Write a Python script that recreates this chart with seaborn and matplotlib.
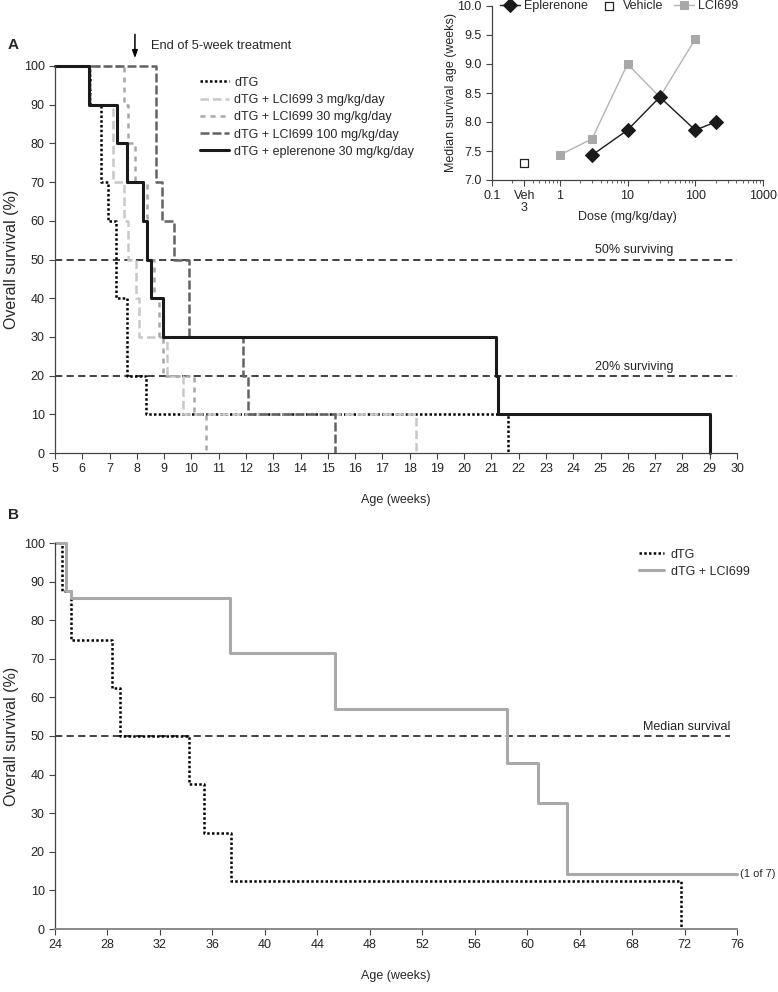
import matplotlib
matplotlib.use("Agg")
import numpy as np
import pandas as pd
import matplotlib.pyplot as plt
import seaborn as sns
from matplotlib.ticker import FormatStrFormatter, MultipleLocator

# Panel A: Kaplan-Meier steps, age (weeks) vs overall survival (%)
dtg_a_weeks = [5, 6.3, 6.7, 6.95, 7.25, 7.65, 8.35, 21.6]
dtg_a_surv = [100, 90, 70, 60, 40, 20, 10, 0]
lci3_weeks = [5, 6.3, 7.12, 7.54, 7.66, 7.97, 8.09, 9.09, 9.68, 18.25]
lci3_surv = [100, 90, 70, 60, 50, 40, 30, 20, 10, 0]
lci30_weeks = [5, 7.53, 7.69, 7.93, 8.36, 8.63, 8.83, 8.95, 10.1, 10.52]
lci30_surv = [100, 90, 80, 70, 50, 40, 30, 20, 10, 0]
lci100_weeks = [5, 8.7, 8.91, 9.37, 9.92, 11.9, 12.06, 15.26]
lci100_surv = [100, 70, 60, 50, 30, 20, 10, 0]
eple_weeks = [5, 6.26, 7.26, 7.65, 8.24, 8.36, 8.51, 8.95, 21.15, 21.25, 29.0]
eple_surv = [100, 90, 80, 70, 60, 50, 40, 30, 20, 10, 0]

# Inset: median survival age vs dose
eple_dose = [3, 10, 30, 100, 200]
eple_median = [7.43, 7.86, 8.43, 7.86, 8.0]
lci_dose = [1, 3, 10, 30, 100]
lci_median = [7.43, 7.71, 9.0, 8.43, 9.43]
veh_dose = [0.3]
veh_median = [7.29]
inset_xticks = [0.1, 0.3, 1, 10, 100, 1000]
inset_xlabels = ["0.1", "Veh\n3", "1", "10", "100", "1000"]

# Panel B
dtg_b_weeks = [24, 24.56, 25.22, 28.37, 28.95, 34.2, 35.35, 37.45, 71.7]
dtg_b_surv = [100, 87.5, 75, 62.5, 50, 37.5, 25, 12.5, 0]
lci_b_weeks = [24, 24.84, 25.22, 37.33, 45.33, 58.5, 60.8, 63.0, 76]
lci_b_surv = [100, 87.5, 85.7, 71.4, 57.1, 42.9, 32.7, 14.3, 14.3]

sns.set_style("ticks")
plt.rcParams["font.family"] = ["Liberation Sans", "DejaVu Sans"]
plt.rcParams["font.size"] = 9
SPINE = "#444444"


def km(ax, weeks, surv, label, **kw):
    df = pd.DataFrame({"Age": weeks, "Survival": surv})
    sns.lineplot(data=df, x="Age", y="Survival", ax=ax, drawstyle="steps-post",
                 estimator=None, sort=False, label=label, clip_on=False, **kw)


def style_axis(ax):
    sns.despine(ax=ax)
    for s in ["left", "bottom"]:
        ax.spines[s].set_color(SPINE)
        ax.spines[s].set_linewidth(0.9)
    ax.tick_params(colors="#222222", length=4, width=0.8, labelsize=9)
    ax.tick_params(axis="both", color=SPINE)


fig = plt.figure(figsize=(7.78, 9.92), dpi=100)
W, H = 778, 992
axA = fig.add_axes([55 / W, 1 - 453 / H, 682 / W, 387 / H])
axIn = fig.add_axes([492 / W, 1 - 180 / H, 271 / W, 174 / H])
axB = fig.add_axes([55 / W, 1 - 929 / H, 682 / W, 386 / H])

# ---- Panel A ----
km(axA, dtg_a_weeks, dtg_a_surv, "dTG", color="black", lw=1.8, linestyle=(0, (1, 0.9)))
km(axA, lci3_weeks, lci3_surv, "dTG + LCI699 3 mg/kg/day", color="#c8c8c8", lw=1.8,
   linestyle=(0, (3.4, 1.6)))
km(axA, lci30_weeks, lci30_surv, "dTG + LCI699 30 mg/kg/day", color="#a6a6a6", lw=1.8,
   linestyle=(0, (2.0, 2.0)))
km(axA, lci100_weeks, lci100_surv, "dTG + LCI699 100 mg/kg/day", color="#636363", lw=1.8,
   linestyle=(0, (3.6, 1.2)))
km(axA, eple_weeks, eple_surv, "dTG + eplerenone 30 mg/kg/day", color="#1a1a1a", lw=2.2,
   linestyle="-")

for lvl in (50, 20):
    axA.axhline(lvl, color="#333333", lw=1.3, linestyle=(0, (4, 2.4)), zorder=1)
axA.text(24.8, 50.8, "50% surviving", fontsize=9, va="bottom", ha="left", color="#222222")
axA.text(24.8, 20.8, "20% surviving", fontsize=9, va="bottom", ha="left", color="#222222")

axA.set_xlim(5, 30)
axA.set_ylim(0, 100)
axA.xaxis.set_major_locator(MultipleLocator(1))
axA.yaxis.set_major_locator(MultipleLocator(10))
style_axis(axA)
axA.set_xlabel("Age (weeks)", fontsize=9)
axA.xaxis.set_label_coords(0.5, -0.105)
axA.set_ylabel("Overall survival (%)", fontsize=11.5)
axA.yaxis.set_label_coords(-0.053, 0.5)

hA, lA = axA.get_legend_handles_labels()
axA.legend(hA, lA, loc="upper left", bbox_to_anchor=(0.2126, 0.972), frameon=False,
           fontsize=9, handlelength=2.3, handletextpad=0.45, borderpad=0,
           borderaxespad=0, labelspacing=0.42)

axA.annotate("", xy=(7.93, 101.3), xytext=(7.93, 108.9), annotation_clip=False,
             arrowprops=dict(arrowstyle="-|>,head_length=0.5,head_width=0.18",
                             color="black", lw=1.1))
axA.text(8.52, 105.2, "End of 5-week treatment", fontsize=9.3, va="center", ha="left",
         clip_on=False)

# ---- Inset ----
sns.lineplot(x=eple_dose, y=eple_median, ax=axIn, color="#1a1a1a", lw=1.0, marker="D",
             markersize=7, markeredgecolor="#1a1a1a", label="Eplerenone", zorder=3)
sns.scatterplot(x=veh_dose, y=veh_median, ax=axIn, marker="s", s=36, facecolor="white",
                edgecolor="#222222", linewidth=0.9, label="Vehicle", zorder=3)
sns.lineplot(x=lci_dose, y=lci_median, ax=axIn, color="#b4b4b4", lw=1.0, marker="s",
             markersize=6, markerfacecolor="#a8a8a8", markeredgecolor="#a8a8a8",
             label="LCI699", zorder=2)
axIn.set_xscale("log")
axIn.set_xlim(0.1, 1000)
axIn.set_ylim(7.0, 10.0)
axIn.set_xticks(inset_xticks)
axIn.set_xticklabels(inset_xlabels)
axIn.yaxis.set_major_locator(MultipleLocator(0.5))
axIn.yaxis.set_major_formatter(FormatStrFormatter("%.1f"))
style_axis(axIn)
axIn.tick_params(which="minor", length=2.5, color=SPINE)
for t in axIn.get_xticklabels():
    t.set_linespacing(0.95)
axIn.set_xlabel("Dose (mg/kg/day)", fontsize=9)
axIn.xaxis.set_label_coords(0.5, -0.18)
axIn.set_ylabel("Median survival age (weeks)", fontsize=9)
axIn.yaxis.set_label_coords(-0.13, 0.5)
hI, lI = axIn.get_legend_handles_labels()
axIn.legend(hI, lI, loc="center left", bbox_to_anchor=(0.03, 1.0), ncol=3, frameon=False,
            fontsize=9, handlelength=1.6, handletextpad=0.3, columnspacing=0.9,
            borderpad=0, borderaxespad=0)

# ---- Panel B ----
km(axB, dtg_b_weeks, dtg_b_surv, "dTG", color="black", lw=1.8, linestyle=(0, (1, 0.9)))
km(axB, lci_b_weeks, lci_b_surv, "dTG + LCI699", color="#a9a9a9", lw=2.2, linestyle="-")
axB.axhline(50, xmax=0.99, color="#333333", lw=1.3, linestyle=(0, (4, 2.4)), zorder=1)
axB.text(68.8, 50.8, "Median survival", fontsize=9, va="bottom", ha="left", color="#222222")
axB.text(76.25, 14.3, "(1 of 7)", fontsize=8, va="center", ha="left", clip_on=False)
axB.set_xlim(24, 76)
axB.set_ylim(0, 100)
axB.xaxis.set_major_locator(MultipleLocator(4))
axB.yaxis.set_major_locator(MultipleLocator(10))
style_axis(axB)
axB.spines["bottom"].set_color("#8a8a8a")
axB.spines["bottom"].set_linewidth(1.4)
axB.set_xlabel("Age (weeks)", fontsize=9)
axB.xaxis.set_label_coords(0.5, -0.105)
axB.set_ylabel("Overall survival (%)", fontsize=11.5)
axB.yaxis.set_label_coords(-0.053, 0.5)
hB, lB = axB.get_legend_handles_labels()
axB.legend(hB, lB, loc="upper left", bbox_to_anchor=(0.857, 0.985), frameon=False,
           fontsize=9, handlelength=2.0, handletextpad=0.5, borderpad=0,
           borderaxespad=0, labelspacing=0.4)

fig.text(8 / W, 1 - 45 / H, "A", fontsize=11, fontweight="bold", va="center")
fig.text(8 / W, 1 - 515 / H, "B", fontsize=11, fontweight="bold", va="center")

fig.savefig("out.png", dpi=100)
